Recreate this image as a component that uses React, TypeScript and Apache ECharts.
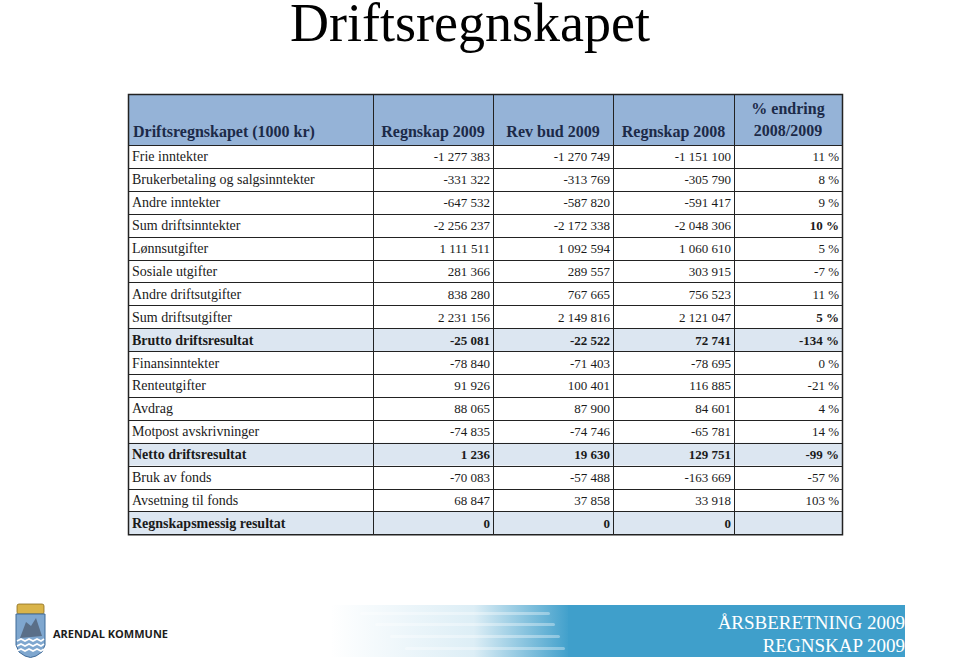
import React, { useEffect, useRef } from "react";
import * as echarts from "echarts";

const title = "Driftsregnskapet";
const headers = ["Driftsregnskapet (1000 kr)", "Regnskap 2009", "Rev bud 2009", "Regnskap 2008", "% endring", "2008/2009"];
const labels = [
  "Frie inntekter",
  "Brukerbetaling og salgsinntekter",
  "Andre inntekter",
  "Sum driftsinntekter",
  "Lønnsutgifter",
  "Sosiale utgifter",
  "Andre driftsutgifter",
  "Sum driftsutgifter",
  "Brutto driftsresultat",
  "Finansinntekter",
  "Renteutgifter",
  "Avdrag",
  "Motpost avskrivninger",
  "Netto driftsresultat",
  "Bruk av fonds",
  "Avsetning til fonds",
  "Regnskapsmessig resultat",
];
const regnskap2009 = [-1277383, -331322, -647532, -2256237, 1111511, 281366, 838280, 2231156, -25081, -78840, 91926, 88065, -74835, 1236, -70083, 68847, 0];
const revBud2009 = [-1270749, -313769, -587820, -2172338, 1092594, 289557, 767665, 2149816, -22522, -71403, 100401, 87900, -74746, 19630, -57488, 37858, 0];
const regnskap2008 = [-1151100, -305790, -591417, -2048306, 1060610, 303915, 756523, 2121047, 72741, -78695, 116885, 84601, -65781, 129751, -163669, 33918, 0];
const endring = [11, 8, 9, 10, 5, -7, 11, 5, -134, 0, -21, 4, 14, -99, -57, 103, null];
// rows that are fully bold and shaded
const resultRows = ["Brutto driftsresultat", "Netto driftsresultat", "Regnskapsmessig resultat"];
// rows where only the percentage is bold
const sumRows = ["Sum driftsinntekter", "Sum driftsutgifter"];
const footerLines = ["ÅRSBERETNING 2009", "REGNSKAP 2009"];
const orgName = "ARENDAL KOMMUNE";

function fmt(n: number): string {
  const s = Math.abs(n).toString();
  const parts: string[] = [];
  for (let i = s.length; i > 0; i -= 3) parts.unshift(s.slice(Math.max(0, i - 3), i));
  return (n < 0 ? "-" : "") + parts.join(" ");
}

const SERIF = "Liberation Serif";

function txt(x: number, y: number, text: string, size: number, bold: boolean, fill: string, align: string, family = SERIF) {
  return {
    type: "text",
    x,
    y,
    style: {
      text,
      fill,
      fontSize: size,
      fontFamily: family,
      fontWeight: bold ? "bold" : "normal",
      textAlign: align,
      textVerticalAlign: "middle",
    },
  };
}

export default function App() {
  const ref = useRef<HTMLDivElement>(null);
  useEffect(() => {
    if (!ref.current) return;
    const chart = echarts.init(ref.current, null, { renderer: "svg" });
    const colX = [128, 373, 493, 613, 734, 842];
    const top = 94;
    const headBottom = 145;
    const rowH = 22.9;
    const bottom = headBottom + rowH * labels.length;
    const textCol = "#1a1a1a";
    const headCol = "#1c2a48";
    const els: any[] = [];

    els.push(txt(470, 23, title, 54, false, "#000", "center"));

    // header fill
    els.push({ type: "rect", shape: { x: colX[0], y: top, width: colX[5] - colX[0], height: headBottom - top }, style: { fill: "#95b3d7" } });
    // shaded result rows
    labels.forEach((l, i) => {
      if (resultRows.includes(l)) {
        els.push({ type: "rect", shape: { x: colX[0], y: headBottom + i * rowH, width: colX[5] - colX[0], height: rowH }, style: { fill: "#dce6f1" } });
      }
    });

    // header text
    els.push(txt(colX[0] + 5, 131, headers[0], 16, true, headCol, "left"));
    for (let c = 1; c <= 3; c++) {
      els.push(txt((colX[c] + colX[c + 1]) / 2, 131, headers[c], 16, true, headCol, "center"));
    }
    els.push(txt((colX[4] + colX[5]) / 2, 108, headers[4], 16, true, headCol, "center"));
    els.push(txt((colX[4] + colX[5]) / 2, 130, headers[5], 16, true, headCol, "center"));

    // rows
    labels.forEach((l, i) => {
      const cy = headBottom + i * rowH + rowH / 2 + 0.5;
      const isRes = resultRows.includes(l);
      const isSum = sumRows.includes(l);
      els.push(txt(colX[0] + 4, cy, l, 14, isRes, textCol, "left"));
      const vals = [regnskap2009[i], revBud2009[i], regnskap2008[i]];
      vals.forEach((v, k) => {
        els.push(txt(colX[k + 2] - 3, cy, fmt(v), 13, isRes, textCol, "right"));
      });
      const p = endring[i];
      if (p !== null && p !== undefined) {
        els.push(txt(colX[5] - 3, cy, `${p} %`, 13, isRes || isSum, textCol, "right"));
      }
    });

    // grid lines
    const lineStyle = { stroke: "#222", lineWidth: 1 };
    for (let i = 0; i <= labels.length; i++) {
      const y = Math.round(headBottom + i * rowH) + 0.5;
      els.push({ type: "line", shape: { x1: colX[0], y1: y, x2: colX[5], y2: y }, style: lineStyle });
    }
    for (let c = 1; c < colX.length - 1; c++) {
      els.push({ type: "line", shape: { x1: colX[c] + 0.5, y1: top, x2: colX[c] + 0.5, y2: bottom }, style: lineStyle });
    }
    els.push({ type: "rect", shape: { x: colX[0] + 0.5, y: top + 0.5, width: colX[5] - colX[0], height: bottom - top }, style: { fill: "none", stroke: "#222", lineWidth: 1.5 } });

    // footer band
    els.push({
      type: "rect",
      shape: { x: 330, y: 605, width: 240, height: 52 },
      style: {
        fill: new echarts.graphic.LinearGradient(0, 0, 1, 0, [
          { offset: 0, color: "rgba(63,159,203,0)" },
          { offset: 0.6, color: "rgba(63,159,203,0.18)" },
          { offset: 1, color: "rgba(63,159,203,1)" },
        ]),
      },
    });
    [612, 623, 635, 647].forEach((y, k) => {
      els.push({ type: "rect", shape: { x: 360 + k * 15, y, width: 190 - k * 10, height: 3, r: 1.5 }, style: { fill: "rgba(255,255,255,0.35)" } });
    });
    els.push({ type: "rect", shape: { x: 568, y: 605, width: 337, height: 52 }, style: { fill: "#3f9fcb" } });
    els.push(txt(905, 622, footerLines[0], 19, false, "#fff", "right"));
    els.push(txt(905, 645, footerLines[1], 19, false, "#fff", "right"));

    // logo: coat of arms
    els.push({ type: "rect", shape: { x: 17, y: 604, width: 27, height: 10, r: 2 }, style: { fill: "#d9b44a", stroke: "#8a6d1e", lineWidth: 0.8 } });
    els.push({
      type: "polygon",
      shape: { points: [[16, 614], [45, 614], [45, 645], [42, 652], [36, 656], [30.5, 657.5], [25, 656], [19, 652], [16, 645]] },
      style: { fill: "#7fa7cf", stroke: "#3f6a98", lineWidth: 1 },
    });
    els.push({ type: "polygon", shape: { points: [[20, 638], [26, 622], [31, 626], [36, 618], [42, 636]] }, style: { fill: "#5a6f88" } });
    [641, 646, 651].forEach((y) => {
      els.push({ type: "polyline", shape: { points: [[17, y], [21, y - 2], [25, y], [29, y - 2], [33, y], [37, y - 2], [41, y], [44, y - 2]] }, style: { stroke: "#fff", lineWidth: 1.6, fill: "none" } });
    });
    els.push(txt(53, 633, orgName, 11, true, "#1d1d1d", "left", "Open Sans"));

    chart.setOption({ animation: false, graphic: els });
    return () => chart.dispose();
  }, []);
  return <div ref={ref} style={{ position: "fixed", left: 0, top: 0, width: 960, height: 664, background: "#fff" }} />;
}
